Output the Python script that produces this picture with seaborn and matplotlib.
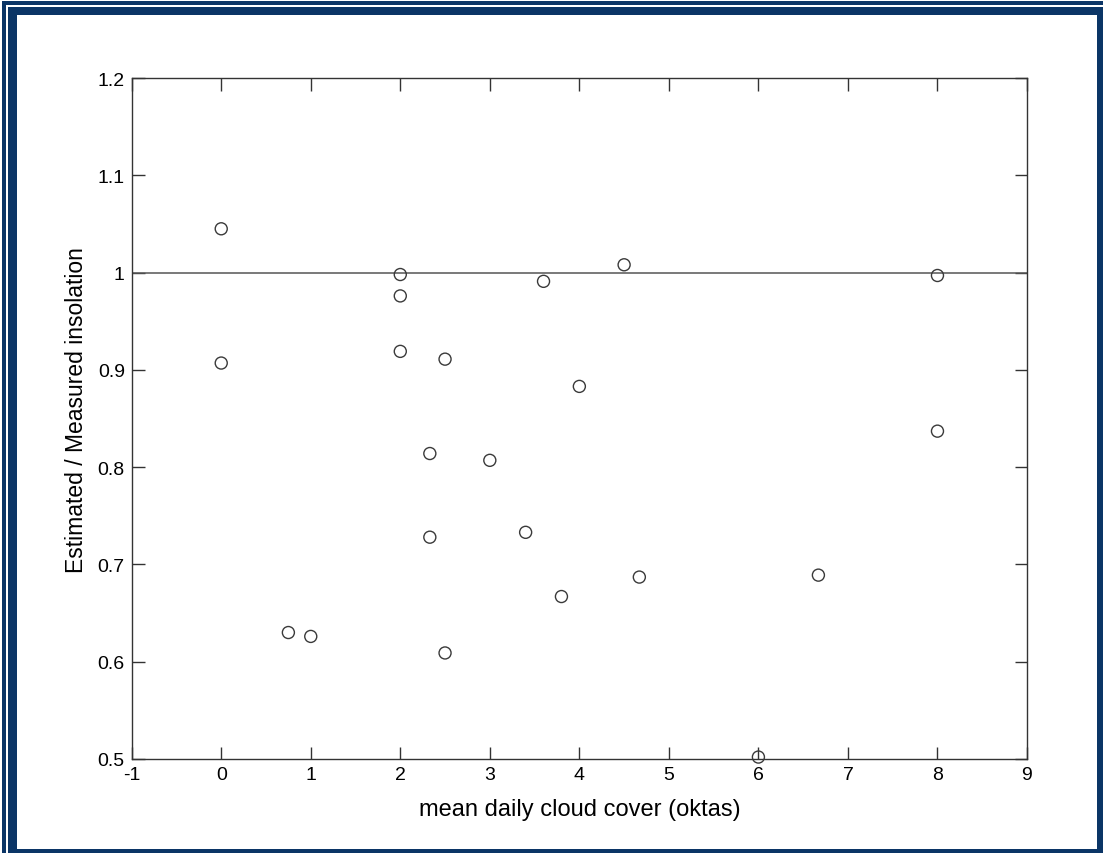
import matplotlib
matplotlib.use("Agg")
import matplotlib.pyplot as plt
import seaborn as sns
import pandas as pd
from matplotlib.patches import Rectangle

cloud_cover = [0, 0, 0.75, 1, 2, 2, 2, 2.33, 2.33, 2.5, 2.5, 3, 3.4, 3.6, 3.8, 4, 4.5, 4.67, 6, 6.67, 8, 8]
ratio = [1.045, 0.907, 0.630, 0.626, 0.998, 0.976, 0.919, 0.814, 0.728, 0.911, 0.609, 0.807,
         0.733, 0.991, 0.667, 0.883, 1.008, 0.687, 0.502, 0.689, 0.997, 0.837]
x_ticks = [-1, 0, 1, 2, 3, 4, 5, 6, 7, 8, 9]
x_tick_labels = ["-1", "0", "1", "2", "3", "4", "5", "6", "7", "8", "9"]
y_ticks = [0.5, 0.6, 0.7, 0.8, 0.9, 1.0, 1.1, 1.2]
y_tick_labels = ["0.5", "0.6", "0.7", "0.8", "0.9", "1", "1.1", "1.2"]
ref_line = 1.0

df = pd.DataFrame({"cloud": cloud_cover, "ratio": ratio})

sns.set_theme(style="white")
plt.rcParams["font.family"] = ["Liberation Sans", "DejaVu Sans"]

fig = plt.figure(figsize=(11.03, 8.54), dpi=100)
fig.patch.set_facecolor("white")
navy = "#0b3566"
W, H = 1103, 854
def frect(x0, y0, x1, y1, color, z):
    # pixel coordinates (top-left origin)
    fig.patches.append(Rectangle((x0 / W, 1 - y1 / H), (x1 - x0) / W, (y1 - y0) / H,
                                 transform=fig.transFigure, facecolor=color,
                                 edgecolor="none", zorder=z))
frect(2, 2, W, H, navy, -5)
frect(5.5, 5.5, W, H, "white", -4)
frect(7.5, 7.5, W, H, navy, -3)
frect(17, 16, W - 6, H - 4, "white", -2)

ax = fig.add_axes([131.7 / W, 1 - 760 / H, (1027 - 131.7) / W, (760 - 79) / H])
ax.set_zorder(1)
ax.set_facecolor("white")
ax.axhline(ref_line, color="#555555", linewidth=1.1, zorder=1)
sns.scatterplot(data=df, x="cloud", y="ratio", ax=ax, marker="o", s=75,
                facecolor="none", edgecolor="#3a3a3a", linewidth=1.0,
                clip_on=False, zorder=3, legend=False)

ax.set_xlim(-1, 9)
ax.set_ylim(0.5, 1.2)
ax.set_xticks(x_ticks)
ax.set_xticklabels(x_tick_labels)
ax.set_yticks(y_ticks)
ax.set_yticklabels(y_tick_labels)
ax.tick_params(direction="in", length=9, width=1, color="#333333", labelsize=14,
               labelcolor="black", top=True, right=True, bottom=True, left=True, pad=5)
for sp in ax.spines.values():
    sp.set_visible(True)
    sp.set_color("#333333")
    sp.set_linewidth(1.0)
ax.set_xlabel("mean daily cloud cover (oktas)", fontsize=17, color="black", labelpad=11)
ax.set_ylabel("Estimated / Measured insolation", fontsize=16.5, color="black")
ax.yaxis.set_label_coords(-0.049, 0.514)

fig.savefig("out.png", dpi=100, facecolor=fig.get_facecolor())
